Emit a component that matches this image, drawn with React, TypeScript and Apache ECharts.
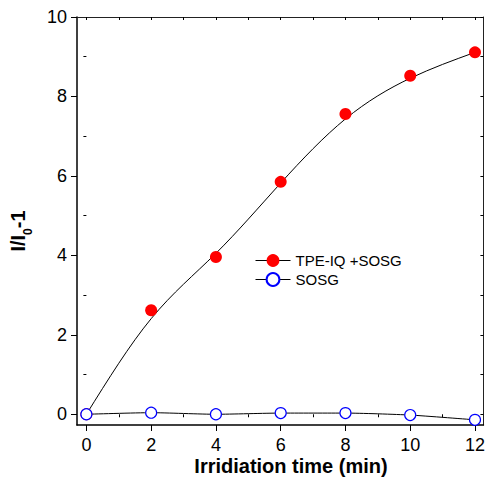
import React, { useEffect, useRef } from "react";
import * as echarts from "echarts";

const timeValues = [0, 2, 4, 6, 8, 10, 12];
const tpeValues = [0, 2.62, 3.96, 5.85, 7.56, 8.52, 9.11];
const sosgValues = [0, 0.04, 0, 0.03, 0.03, -0.02, -0.14];
const xMajorTicks = [0, 2, 4, 6, 8, 10, 12];
const xMinorTicks = [1, 3, 5, 7, 9, 11];
const xAllTicks = [0, 1, 2, 3, 4, 5, 6, 7, 8, 9, 10, 11, 12];
const yMajorTicks = [0, 2, 4, 6, 8, 10];
const yMinorTicks = [1, 3, 5, 7, 9];
const yAllTicks = [0, 1, 2, 3, 4, 5, 6, 7, 8, 9, 10];
const seriesNames = ["TPE-IQ +SOSG", "SOSG"];
const xTitle = "Irridiation time (min)";

const FONT = "Arial, 'Liberation Sans', sans-serif";
const X_MIN = -0.29;
const X_MAX = 12.26;
const Y_MIN = -0.27;
const Y_MAX = 10;

// Draw a uniform cubic B-spline (as Origin does) through the data's control points,
// in pixel space obtained from the chart's own axes.
function bsplineRender(xs: number[], ys: number[]) {
  return (params: any, api: any) => {
    if (params.dataIndex !== 0) return null;
    const P = xs.map((x, i) => api.coord([x, ys[i]]) as number[]);
    const n = P.length;
    const first = [2 * P[0][0] - P[1][0], 2 * P[0][1] - P[1][1]];
    const last = [2 * P[n - 1][0] - P[n - 2][0], 2 * P[n - 1][1] - P[n - 2][1]];
    const Q = [first, ...P, last];
    const children: any[] = [];
    for (let k = 1; k < Q.length - 2; k++) {
      const a = Q[k - 1], b = Q[k], c = Q[k + 1], d = Q[k + 2];
      const s = [(a[0] + 4 * b[0] + c[0]) / 6, (a[1] + 4 * b[1] + c[1]) / 6];
      const c1 = [(2 * b[0] + c[0]) / 3, (2 * b[1] + c[1]) / 3];
      const c2 = [(b[0] + 2 * c[0]) / 3, (b[1] + 2 * c[1]) / 3];
      const e = [(b[0] + 4 * c[0] + d[0]) / 6, (b[1] + 4 * c[1] + d[1]) / 6];
      children.push({
        type: "bezierCurve",
        shape: { x1: s[0], y1: s[1], cpx1: c1[0], cpy1: c1[1], cpx2: c2[0], cpy2: c2[1], x2: e[0], y2: e[1] },
        style: { stroke: "#000", lineWidth: 1, fill: null },
      });
    }
    return { type: "group", children };
  };
}

export default function App() {
  const ref = useRef<HTMLDivElement>(null);
  useEffect(() => {
    document.body.style.margin = "0";
    const chart = echarts.init(ref.current!, null, { renderer: "svg" });
    const baseX = { type: "value", min: X_MIN, max: X_MAX, splitLine: { show: false } };
    const baseY = { type: "value", min: Y_MIN, max: Y_MAX, splitLine: { show: false } };
    const option: any = {
      animation: false,
      backgroundColor: "#ffffff",
      grid: { left: 77, right: 3, top: 17, bottom: 58, containLabel: false },
      legend: {
        left: 255,
        top: 253,
        padding: 0,
        orient: "vertical",
        itemWidth: 35,
        itemHeight: 16,
        itemGap: 4,
        lineStyle: { color: "#000", width: 1, opacity: 1 },
        textStyle: { fontFamily: FONT, fontSize: 15, color: "#000" },
        data: seriesNames,
      },
      xAxis: [
        {
          ...baseX,
          position: "bottom",
          axisLine: { show: true, onZero: false, lineStyle: { color: "#000", width: 1.5 } },
          axisTick: { show: true, inside: false, length: 6, customValues: xMajorTicks, lineStyle: { color: "#000", width: 1 } },
          axisLabel: { show: true, customValues: xMajorTicks, margin: 11, fontFamily: FONT, fontSize: 18, color: "#000" },
        },
        {
          ...baseX,
          position: "bottom",
          axisLine: { show: false },
          axisTick: { show: true, inside: false, length: 3, customValues: xMinorTicks, lineStyle: { color: "#000", width: 1 } },
          axisLabel: { show: false },
        },
        {
          ...baseX,
          position: "top",
          axisLine: { show: true, onZero: false, lineStyle: { color: "#222", width: 1 } },
          axisTick: { show: true, inside: true, length: 3, customValues: xAllTicks, lineStyle: { color: "#000", width: 1 } },
          axisLabel: { show: false },
        },
      ],
      yAxis: [
        {
          ...baseY,
          position: "left",
          axisLine: { show: true, onZero: false, lineStyle: { color: "#000", width: 1.5 } },
          axisTick: { show: true, inside: false, length: 6, customValues: yMajorTicks, lineStyle: { color: "#000", width: 1 } },
          axisLabel: { show: true, customValues: yMajorTicks, margin: 10, fontFamily: FONT, fontSize: 18, color: "#000" },
        },
        {
          ...baseY,
          position: "left",
          axisLine: { show: false },
          axisTick: { show: true, inside: false, length: 3, customValues: yMinorTicks, lineStyle: { color: "#000", width: 1 } },
          axisLabel: { show: false },
        },
        {
          ...baseY,
          position: "right",
          axisLine: { show: true, onZero: false, lineStyle: { color: "#222", width: 1 } },
          axisTick: { show: true, inside: true, length: 3, customValues: yAllTicks, lineStyle: { color: "#000", width: 1 } },
          axisLabel: { show: false },
        },
      ],
      series: [
        {
          type: "custom",
          xAxisIndex: 0,
          yAxisIndex: 0,
          silent: true,
          renderItem: bsplineRender(timeValues, tpeValues),
          data: [[timeValues[0], tpeValues[0]]],
          z: 2,
        },
        {
          name: seriesNames[0],
          type: "line",
          xAxisIndex: 0,
          yAxisIndex: 0,
          symbol: "circle",
          symbolSize: 12,
          lineStyle: { color: "#000", width: 1, opacity: 0 },
          itemStyle: { color: "#ff0000", borderWidth: 0 },
          data: timeValues.map((t, i) => [t, tpeValues[i]]),
          z: 3,
        },
        {
          name: seriesNames[1],
          type: "line",
          xAxisIndex: 0,
          yAxisIndex: 0,
          smooth: 0.2,
          symbol: "circle",
          symbolSize: 11,
          lineStyle: { color: "#000", width: 1 },
          itemStyle: { color: "#ffffff", borderColor: "#0000ff", borderWidth: 1.2 },
          data: timeValues.map((t, i) => [t, sosgValues[i]]),
          z: 3,
        },
      ],
      graphic: [
        {
          type: "text",
          x: 291,
          y: 466,
          style: {
            text: xTitle,
            fontFamily: FONT,
            fontSize: 20,
            fontWeight: "bold",
            fill: "#000",
            align: "center",
            verticalAlign: "middle",
          },
        },
        {
          type: "text",
          x: 21,
          y: 231,
          rotation: Math.PI / 2,
          style: {
            text: "{a|I/I}{s|0}{a|-1}",
            fill: "#000",
            align: "center",
            verticalAlign: "middle",
            rich: {
              a: { fontFamily: FONT, fontSize: 20, fontWeight: "bold", fill: "#000", lineHeight: 26, verticalAlign: "top" },
              s: { fontFamily: FONT, fontSize: 12, fontWeight: "bold", fill: "#000", lineHeight: 14, verticalAlign: "bottom" },
            },
          },
        },
      ],
    };
    chart.setOption(option);
    return () => chart.dispose();
  }, []);
  return <div ref={ref} style={{ position: "absolute", left: 0, top: 0, width: 488, height: 483 }} />;
}
